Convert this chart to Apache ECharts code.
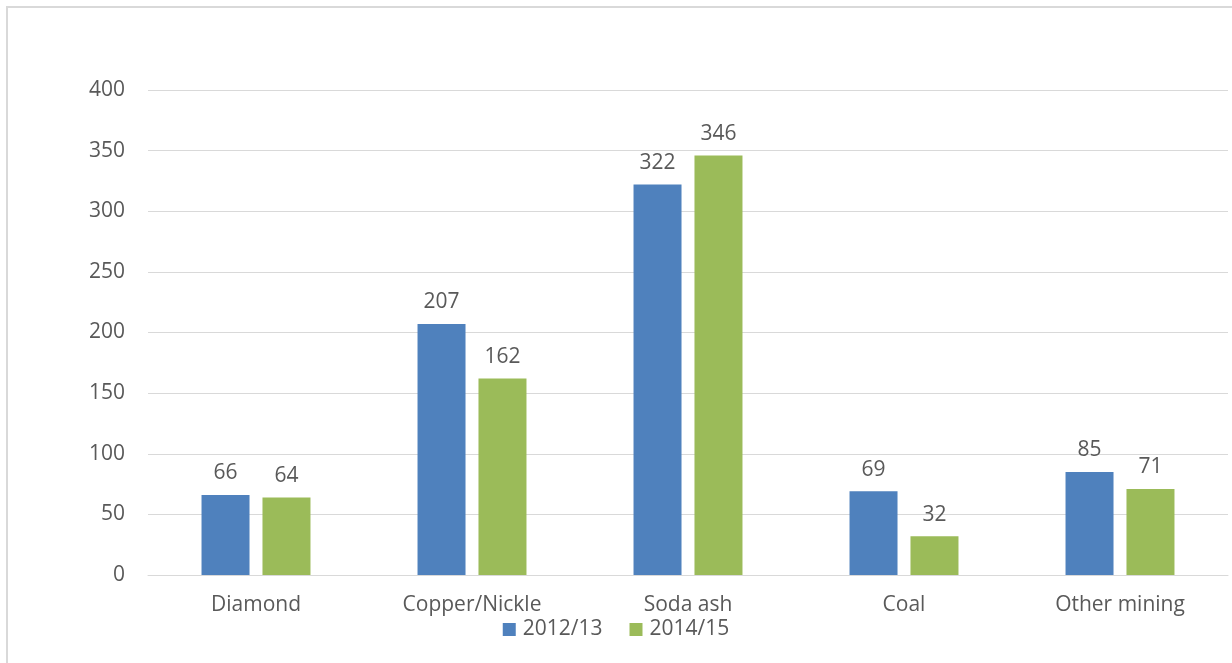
<!DOCTYPE html>
<html>
<head>
<meta charset="utf-8">
<script src="https://cdn.jsdelivr.net/npm/echarts@6/dist/echarts.min.js"></script>
<style>
  html, body { margin: 0; padding: 0; background: #fff; }
  #frame { position: absolute; left: 6px; top: 6px; width: 1240px; height: 680px; border: 2px solid #d9d9d9; box-sizing: border-box; }
  #main { position: absolute; left: 0; top: 0; width: 1232px; height: 663px; }
</style>
</head>
<body>
<div id="frame"></div>
<div id="main"></div>
<script>
var categories = ['Diamond', 'Copper/Nickle', 'Soda ash', 'Coal', 'Other mining'];
var values2012 = [66, 207, 322, 69, 85];
var values2014 = [64, 162, 346, 32, 71];
var seriesNames = ['2012/13', '2014/15'];

var textColor = '#595959';
var font = 'Open Sans';

var myChart = echarts.init(document.getElementById('main'));
var labelStyle = {
  show: true,
  position: 'top',
  distance: 11,
  color: textColor,
  fontFamily: font,
  fontSize: 21
};
myChart.setOption({
  animation: false,
  grid: { left: 148, right: 4, top: 90, bottom: 88 },
  legend: {
    bottom: 18,
    left: 'center',
    itemWidth: 13,
    itemHeight: 13,
    itemGap: 27,
    icon: 'rect',
    textStyle: { color: textColor, fontFamily: font, fontSize: 21, padding: [0, 0, 0, 2] },
    data: seriesNames
  },
  xAxis: {
    type: 'category',
    data: categories,
    axisLine: { lineStyle: { color: '#d9d9d9', width: 1 } },
    axisTick: { show: false },
    axisLabel: { color: textColor, fontFamily: font, fontSize: 21, margin: 20 }
  },
  yAxis: {
    type: 'value',
    min: 0,
    max: 400,
    interval: 50,
    axisLine: { show: false },
    axisTick: { show: false },
    splitLine: { lineStyle: { color: '#d9d9d9', width: 1 } },
    axisLabel: { color: textColor, fontFamily: font, fontSize: 21, margin: 23 }
  },
  series: [
    {
      name: seriesNames[0],
      type: 'bar',
      data: values2012,
      barWidth: 48,
      barGap: '27%',
      itemStyle: { color: '#4F81BD' },
      label: labelStyle
    },
    {
      name: seriesNames[1],
      type: 'bar',
      data: values2014,
      barWidth: 48,
      barGap: '27%',
      itemStyle: { color: '#9BBB59' },
      label: labelStyle
    }
  ]
});
</script>
</body>
</html>
